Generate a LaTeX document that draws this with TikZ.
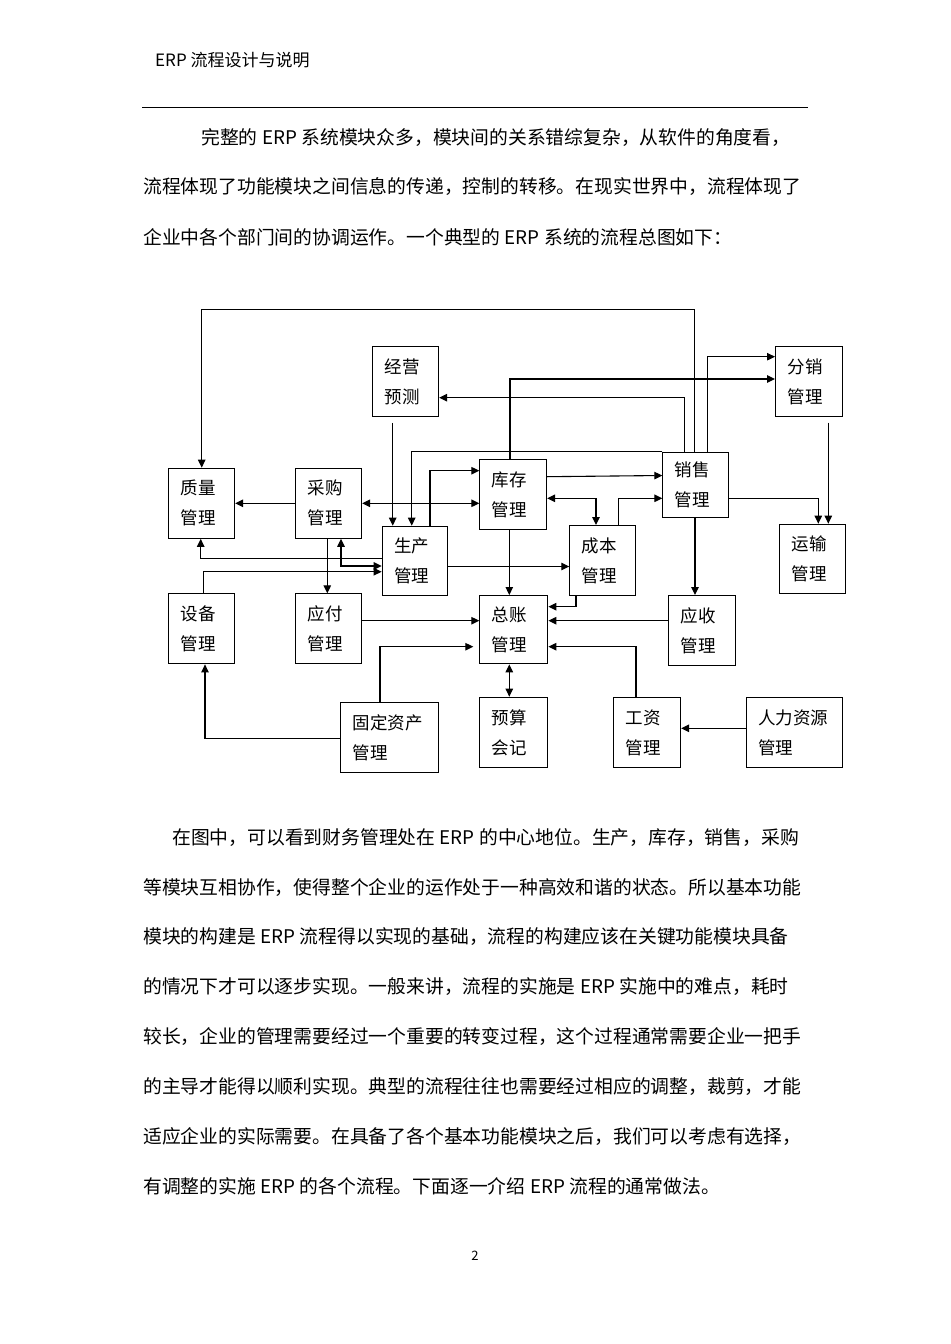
\documentclass[tikz,border=0pt]{standalone}
\usepackage{fontspec}
\usetikzlibrary{arrows.meta}
\newfontfamily\cjk{Noto Sans CJK SC}
\XeTeXlinebreaklocale "zh"
\XeTeXlinebreakskip=0pt plus 4pt
\newcommand{\bodyfont}{\cjk\fontsize{18.8bp}{22bp}\selectfont\spaceskip=4.5bp\xspaceskip=4.5bp\relax}
\newcommand{\mbx}[6]{%
  \pgfmathsetmacro{\mytw}{#4-24}%
  \node[mbox, minimum width=#4bp, minimum height=#5bp, text width=\mytw bp, anchor=north west] (#1) at (#2,#3) {#6};}
\newcommand{\jline}[5]{\node[anchor=west, inner sep=0pt, font=\bodyfont] (#1) at (#2,#3) {\makebox[#4bp][s]{#5}};}
\newcommand{\nline}[4]{\node[anchor=west, inner sep=0pt, font=\bodyfont] (#1) at (#2,#3) {#4};}
\tikzset{
  mbox/.style={draw, line width=1.1bp, inner xsep=12bp, inner ysep=0pt, align=left,
    font=\cjk\fontsize{17.5bp}{30bp}\selectfont},
  arr/.style={line width=1.1bp, -{Triangle[length=8bp,width=7.5bp]}},
  arrb/.style={line width=1.1bp, {Triangle[length=8bp,width=7.5bp]}-{Triangle[length=8bp,width=7.5bp]}},
}
\begin{document}
\begin{tikzpicture}[x=1bp,y=-1bp]
\useasboundingbox[fill=white] (0,0) rectangle (950,1344);
% header
\node[anchor=west, inner sep=0pt, font=\cjk\fontsize{17bp}{20bp}\selectfont] (hdr) at (155,60) {ERP 流程设计与说明};
\coordinate (rl1) at (142,107.5);
\coordinate (rl2) at (808,107.5);
\draw[line width=1bp] (rl1) -- (rl2);
% paragraph 1
\jline{p1}{201}{138}{603}{完整的 ERP 系统模块众多，模块间的关系错综复杂，从软件的角度看，}
\jline{p2}{143}{187}{663}{流程体现了功能模块之间信息的传递，控制的转移。在现实世界中，流程体现了}
\nline{p3}{143}{237}{企业中各个部门间的协调运作。一个典型的 ERP 系统的流程总图如下：}
% boxes
\mbx{jy}{372}{345.7}{66}{70.6}{经营\\预测}
\mbx{fx}{775}{345.7}{66.7}{70.3}{分销\\管理}
\mbx{zl}{168.3}{467.7}{65.7}{70}{质量\\管理}
\mbx{cg}{295}{467.7}{66}{70}{采购\\管理}
\mbx{sc}{381.7}{525.7}{65.6}{69.6}{生产\\管理}
\mbx{kc}{479.3}{459.3}{66.7}{70}{库存\\管理}
\mbx{xs}{662.3}{451.7}{66}{65.6}{销售\\管理}
\mbx{cb}{569.3}{525}{66}{70}{成本\\管理}
\mbx{ys}{779.3}{523.7}{65.7}{69.6}{运输\\管理}
\mbx{sb}{168.3}{593.3}{66}{70}{设备\\管理}
\mbx{yf}{295}{593.3}{66}{70}{应付\\管理}
\mbx{gd}{340}{702.3}{97.7}{70}{固定资产\\管理}
\mbx{zz}{479.3}{595}{68}{68.3}{总账\\管理}
\mbx{yh}{668.3}{595}{66.4}{70}{应收\\管理}
\mbx{yu}{479.3}{696.7}{67.4}{70.6}{预算\\会记}
\mbx{gz}{613.3}{696.7}{66.7}{70.6}{工资\\管理}
\mbx{rl}{745.7}{696.7}{96}{70.3}{人力资源\\管理}
% connectors
\draw[arr] (xs.north -| 694.3,0) -- (694.3,309.3) -| (zl.north);
\draw[arr] (xs.north -| 684.3,0) -- (684.3,397.7) -- (jy.east |- 0,397.7);
\draw[arr] (kc.north -| 510,0) -- (510,379) -- (fx.west |- 0,379);
\draw[arr] (xs.north -| 707.3,0) -- (707.3,356.7) -- (fx.west |- 0,356.7);
\draw[arr, shorten <=5.5bp] (fx.south -| 828.3,0) -- (ys.north -| 828.3,0);
\draw[arr] (xs.east |- 0,498.3) -| (ys.north -| 818.3,0);
\draw[arr, shorten <=5.5bp] (jy.south -| 392.7,0) -- (sc.north -| 392.7,0);
\draw[arr] (xs.north west) -| (sc.north -| 411.7,0);
\draw[arr] (sc.north -| 430,0) |- (kc.west |- 0,470.7);
\draw[arrb] (cg.east |- 0,503.3) -- (kc.west |- 0,503.3);
\draw[arr] (kc.east |- 0,476.7) -- (xs.west |- 0,475.5);
\draw[arrb] (kc.east |- 0,498.3) -| (cb.north -| 596,0);
\draw[arr] (cb.north -| 618.3,0) |- (xs.west |- 0,498.3);
\draw[arr] (cg.west |- 0,503.3) -- (zl.east |- 0,503.3);
\draw[arr] (sc.west |- 0,558.3) -| (zl.south -| 200.7,0);
\draw[arrb] (cg.south -| 341,0) |- (sc.west |- 0,566);
\draw[arr] (sb.north -| 203.3,0) |- (sc.west |- 0,571.7);
\draw[arr] (cg.south -| 327.3,0) -- (yf.north -| 327.3,0);
\draw[arr] (sc.east |- 0,566.5) -- (cb.west |- 0,566.5);
\draw[arr] (kc.south -| 509.3,0) -- (zz.north -| 509.3,0);
\draw[arr] (cb.south -| 576,0) |- (zz.east |- 0,606.7);
\draw[arr] (yf.east |- 0,620.7) -- (zz.west |- 0,620.7);
\draw[arr, shorten >=6bp] (gd.north -| 380,0) |- (zz.west |- 0,646.7);
\draw[arr] (gd.west |- 0,738.3) -| (sb.south -| 205,0);
\draw[arr] (yh.west |- 0,620.7) -- (zz.east |- 0,620.7);
\draw[arr] (xs.south -| 695,0) -- (yh.north -| 695,0);
\draw[arr] (gz.north -| 636,0) |- (zz.east |- 0,646.7);
\draw[arrb] (zz.south -| 509.3,0) -- (yu.north -| 509.3,0);
\draw[arr] (rl.west |- 0,728.3) -- (gz.east |- 0,728.3);
% paragraph 2
\jline{q1}{172}{838}{636}{在图中，可以看到财务管理处在 ERP 的中心地位。生产，库存，销售，采购}
\jline{q2}{143}{888}{665}{等模块互相协作，使得整个企业的运作处于一种高效和谐的状态。所以基本功能}
\jline{q3}{143}{937}{660}{模块的构建是 ERP 流程得以实现的基础，流程的构建应该在关键功能模块具备}
\jline{q4}{143}{987}{660}{的情况下才可以逐步实现。一般来讲，流程的实施是 ERP 实施中的难点，耗时}
\jline{q5}{143}{1037}{665}{较长，企业的管理需要经过一个重要的转变过程，这个过程通常需要企业一把手}
\jline{q6}{143}{1087}{665}{的主导才能得以顺利实现。典型的流程往往也需要经过相应的调整，裁剪，才能}
\jline{q7}{143}{1137}{665}{适应企业的实际需要。在具备了各个基本功能模块之后，我们可以考虑有选择，}
\nline{q8}{143}{1186}{有调整的实施 ERP 的各个流程。下面逐一介绍 ERP 流程的通常做法。}
% page number
\node[inner sep=0pt, font=\cjk\fontsize{13bp}{15bp}\selectfont] (pg) at (475,1256) {2};
\end{tikzpicture}
\end{document}
